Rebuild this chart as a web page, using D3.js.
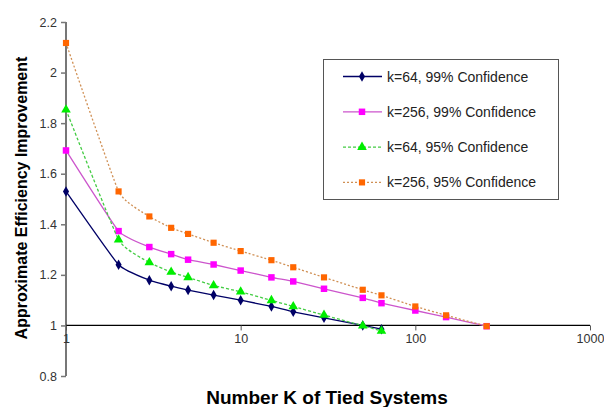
<!DOCTYPE html>
<html>
<head>
<meta charset="utf-8">
<script src="https://cdn.jsdelivr.net/npm/d3@7"></script>
<style>
  body { margin: 0; background: #fff; }
  svg { display: block; font-family: Arial, "Liberation Sans", sans-serif; }
</style>
</head>
<body>
<div id="chart"></div>
<script>
var width = 604, height = 407;

// data
var kValues = [1, 2, 3, 4, 5, 7, 10, 15, 20, 30, 50, 64, 100, 150, 256];
var k64_99 = [1.53, 1.24, 1.179, 1.155, 1.14, 1.12, 1.10, 1.075, 1.054, 1.03, 1.0, 0.985];
var k256_99 = [1.692, 1.373, 1.31, 1.282, 1.26, 1.241, 1.217, 1.19, 1.174, 1.145, 1.109, 1.088, 1.059, 1.033, 0.997];
var k64_95 = [1.853, 1.339, 1.249, 1.211, 1.19, 1.158, 1.133, 1.099, 1.075, 1.041, 0.999, 0.978];
var k256_95 = [2.117, 1.53, 1.431, 1.386, 1.362, 1.327, 1.294, 1.258, 1.23, 1.19, 1.141, 1.119, 1.075, 1.04, 0.997];
var seriesNames = ["k=64, 99% Confidence", "k=256, 99% Confidence", "k=64, 95% Confidence", "k=256, 95% Confidence"];
var yTicks = [0.8, 1, 1.2, 1.4, 1.6, 1.8, 2, 2.2];
var xTicks = [1, 10, 100, 1000];

var series = [
  {name: seriesNames[0], values: k64_99, line: "#000066", marker: "#000066", dash: null, symbol: d3.symbolDiamond, size: 32},
  {name: seriesNames[1], values: k256_99, line: "#cc55cc", marker: "#ff00ff", dash: null, symbol: d3.symbolSquare, size: 42},
  {name: seriesNames[2], values: k64_95, line: "#44cc44", marker: "#00ee00", dash: "3,2", symbol: d3.symbolTriangle, size: 40},
  {name: seriesNames[3], values: k256_95, line: "#d09055", marker: "#ff6600", dash: "2,2", symbol: d3.symbolSquare, size: 38}
];

var svg = d3.select("#chart").append("svg")
            .attr("width", width)
            .attr("height", height);

var x = d3.scaleLog()
          .domain([1, 1000])
          .range([66, 590]);

var y = d3.scaleLinear()
          .domain([0.8, 2.2])
          .range([376, 22]);

// y axis (grey, at x = 1)
var yAxis = svg.append("g")
   .attr("transform", "translate(" + x(1) + ",0)")
   .call(d3.axisLeft(y).tickValues(yTicks).tickSize(5).tickPadding(4)
           .tickFormat(function(d){ return d3.format("")(+d.toFixed(1)); }));
yAxis.select(".domain").attr("stroke", "#777").attr("stroke-width", 2).attr("d", "M0," + y(0.8) + "V" + y(2.2));
yAxis.selectAll(".tick line").attr("stroke", "#777").attr("stroke-width", 1.5);
yAxis.selectAll("text").attr("fill", "#333").style("font-size", "12.5px");

// x axis crosses at y = 1
var xAxis = svg.append("g")
   .attr("transform", "translate(0," + y(1) + ")")
   .call(d3.axisBottom(x).tickValues(xTicks).tickSize(5).tickPadding(4).tickFormat(d3.format("")));
xAxis.select(".domain").attr("stroke", "#000").attr("stroke-width", 1.3).attr("d", "M" + x(1) + ",0H" + x(1000));
xAxis.selectAll(".tick line").attr("stroke", "#555");
xAxis.selectAll("text").attr("fill", "#333").style("font-size", "12.5px");

var line = d3.line()
             .x(function(d){ return x(d.k); })
             .y(function(d){ return y(d.v); })
             .curve(d3.curveCardinal.tension(0.6));

series.forEach(function(s){
  var pts = s.values.map(function(v, i){ return {k: kValues[i], v: v}; });
  svg.append("path")
     .attr("d", line(pts))
     .attr("fill", "none")
     .attr("stroke", s.line)
     .attr("stroke-width", 1.3)
     .attr("stroke-dasharray", s.dash);
  svg.selectAll(null).data(pts).enter().append("path")
     .attr("transform", function(d){ return "translate(" + x(d.k) + "," + y(d.v) + ")"; })
     .attr("d", d3.symbol().type(s.symbol).size(s.size))
     .attr("fill", s.marker);
});

// legend
var legend = svg.append("g");
legend.append("rect")
      .attr("x", 323.5).attr("y", 59.5)
      .attr("width", 235).attr("height", 140)
      .attr("fill", "#fff").attr("stroke", "#555").attr("stroke-width", 1);
series.forEach(function(s, i){
  var ly = 76.5 + i * 35.3;
  legend.append("line")
        .attr("x1", 343).attr("x2", 382).attr("y1", ly).attr("y2", ly)
        .attr("stroke", s.line).attr("stroke-width", 1.3)
        .attr("stroke-dasharray", s.dash);
  legend.append("path")
        .attr("transform", "translate(362," + ly + ")")
        .attr("d", d3.symbol().type(s.symbol).size(s.size))
        .attr("fill", s.marker);
  legend.append("text")
        .attr("x", 387).attr("y", ly + 5)
        .attr("fill", "#222")
        .style("font-size", "14px")
        .text(s.name);
});

// axis titles
svg.append("text")
   .attr("transform", "translate(27,198) rotate(-90)")
   .attr("text-anchor", "middle")
   .style("font-size", "16px").style("font-weight", "bold")
   .text("Approximate Efficiency Improvement");

svg.append("text")
   .attr("x", 327).attr("y", 404)
   .attr("text-anchor", "middle")
   .style("font-size", "19px").style("font-weight", "bold")
   .text("Number K of Tied Systems");
</script>
</body>
</html>
